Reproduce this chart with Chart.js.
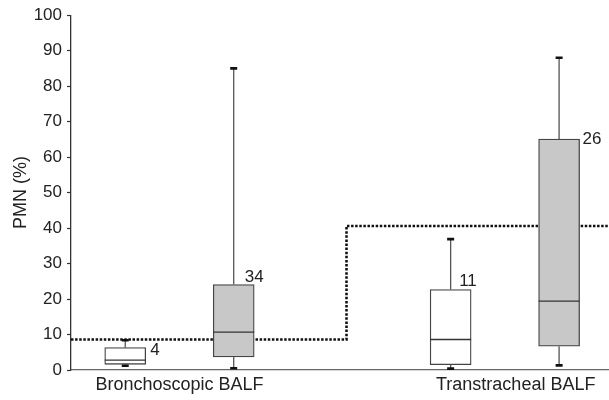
<!DOCTYPE html>
<html>
<head>
<meta charset="utf-8">
<script src="https://cdn.jsdelivr.net/npm/chart.js@4.4.1/dist/chart.umd.min.js"></script>
<style>
html,body{margin:0;padding:0;background:#fff;}
#wrap{width:609px;height:400px;}
</style>
</head>
<body>
<div id="wrap"><canvas id="c" width="609" height="400"></canvas></div>
<script>
// ---- data ----
const categories = ['Bronchoscopic BALF', 'Transtracheal BALF'];
const categoryLabelPositions = [1.5, 4.6];
const boxPositions = [1, 2, 4, 5];
const boxMin = [1.2, 0.5, 0.4, 1.3];
const boxQ1 = [1.6, 3.7, 1.5, 6.7];
const boxMedian = [2.8, 10.7, 8.6, 19.4];
const boxQ3 = [6.3, 24.1, 22.7, 65.1];
const boxMax = [8.4, 85.0, 36.9, 88.0];
const boxCounts = ['4', '34', '11', '26'];
const thresholdX = [0.5, 3.04, 3.04, 5.46];
const thresholdY = [8.6, 8.6, 40.6, 40.6];
const yTicks = [0, 10, 20, 30, 40, 50, 60, 70, 80, 90, 100];

// ---- styles ----
const boxFills = ['#ffffff', '#c8c8c8', '#ffffff', '#c8c8c8'];
const labelOffsets = [[25, 3], [11, -7], [8.5, -8], [23.5, 0]];
const FONT = '"Liberation Sans", Arial, Helvetica, sans-serif';

const boxPlugin = {
  id: 'boxParts',
  afterDatasetsDraw(chart) {
    const ctx = chart.ctx;
    const xs = chart.scales.x, ys = chart.scales.y;
    const half = 20.5;
    ctx.save();
    boxPositions.forEach((p, i) => {
      const cx = xs.getPixelForValue(p);
      const yMin = ys.getPixelForValue(boxMin[i]);
      const yQ1 = ys.getPixelForValue(boxQ1[i]);
      const yMed = ys.getPixelForValue(boxMedian[i]);
      const yQ3 = ys.getPixelForValue(boxQ3[i]);
      const yMax = ys.getPixelForValue(boxMax[i]);
      ctx.strokeStyle = '#555';
      ctx.lineWidth = 1.3;
      ctx.beginPath();
      ctx.moveTo(cx, yQ3); ctx.lineTo(cx, yMax);
      ctx.moveTo(cx, yQ1); ctx.lineTo(cx, yMin);
      ctx.stroke();
      ctx.strokeStyle = '#111';
      ctx.lineWidth = 2.6;
      ctx.beginPath();
      ctx.moveTo(cx - 3.5, yMax); ctx.lineTo(cx + 3.5, yMax);
      ctx.moveTo(cx - 3.5, yMin); ctx.lineTo(cx + 3.5, yMin);
      ctx.stroke();
      ctx.strokeStyle = '#333';
      ctx.lineWidth = 1.3;
      ctx.beginPath();
      ctx.moveTo(cx - half, yMed); ctx.lineTo(cx + half, yMed);
      ctx.stroke();
      ctx.fillStyle = '#222';
      ctx.font = '17px ' + FONT;
      ctx.textAlign = 'left';
      ctx.textBaseline = 'middle';
      ctx.fillText(boxCounts[i], cx + labelOffsets[i][0], yQ3 + labelOffsets[i][1]);
    });
    ctx.restore();
  }
};

new Chart(document.getElementById('c'), {
  data: {
    datasets: [
      {
        type: 'line',
        data: thresholdX.map((x, i) => ({x: x, y: thresholdY[i]})),
        borderColor: '#111',
        borderWidth: 2.6,
        borderDash: [2.5, 1.6],
        pointRadius: 0,
        fill: false,
        tension: 0,
        order: 2
      },
      {
        type: 'bar',
        data: boxPositions.map((p, i) => ({x: p, y: [boxQ1[i], boxQ3[i]]})),
        backgroundColor: boxFills,
        borderColor: '#444',
        borderWidth: 1.3,
        borderSkipped: false,
        barThickness: 41,
        order: 1
      }
    ]
  },
  options: {
    responsive: false,
    animation: false,
    layout: {padding: {top: 15, right: 0, bottom: 0, left: 0}},
    plugins: {legend: {display: false}, tooltip: {enabled: false}},
    scales: {
      x: {
        type: 'linear',
        min: 0.5,
        max: 5.46,
        offset: false,
        bounds: 'ticks',
        afterBuildTicks(scale) {
          scale.ticks = categoryLabelPositions.map(v => ({value: v}));
        },
        afterFit(scale) { scale.height = 30; },
        ticks: {
          autoSkip: false,
          maxRotation: 0,
          padding: 4,
          color: '#222',
          font: {family: FONT, size: 18},
          callback(value, index) { return categories[index]; }
        },
        grid: {display: false, drawTicks: false, offset: false},
        border: {display: true, color: '#666', width: 1.3}
      },
      y: {
        type: 'linear',
        min: 0,
        max: 100,
        afterBuildTicks(scale) {
          scale.ticks = yTicks.map(v => ({value: v}));
        },
        afterFit(scale) { scale.width = 71; },
        ticks: {
          padding: 5,
          color: '#222',
          font: {family: FONT, size: 17}
        },
        grid: {drawOnChartArea: false, drawTicks: true, tickLength: 4, color: '#333', tickWidth: 1.2},
        border: {display: true, color: '#333', width: 1.3},
        title: {
          display: true,
          text: 'PMN (%)',
          color: '#222',
          font: {family: FONT, size: 18},
          padding: {top: 10, bottom: 2}
        }
      }
    }
  },
  plugins: [boxPlugin]
});
</script>
</body>
</html>
